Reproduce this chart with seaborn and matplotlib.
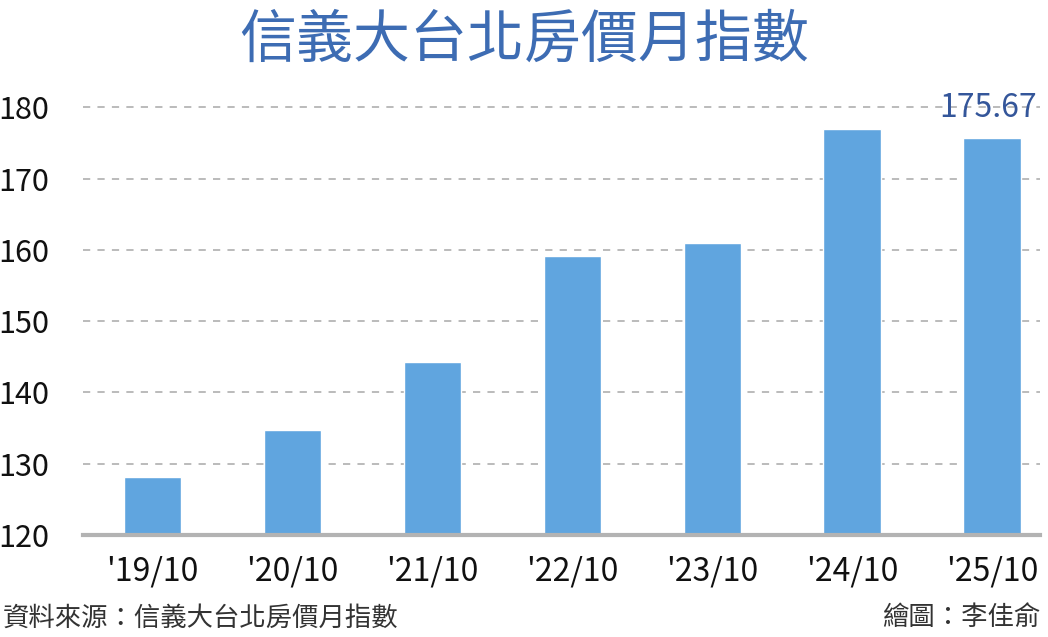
import seaborn as sns
from matplotlib import pyplot as plt
import pandas as pd

# 資料
periods = ["'19/10", "'20/10", "'21/10", "'22/10", "'23/10", "'24/10", "'25/10"]
index_values = [128.2, 134.7, 144.3, 159.2, 161.0, 177.0, 175.67]
y_ticks = [120, 130, 140, 150, 160, 170, 180]

sns.set_style('white')
plt.rcParams['font.family'] = ['Noto Sans CJK TC', 'DejaVu Sans']

df = pd.DataFrame({'period': periods, 'value': index_values})

fig = plt.figure(figsize=(10.48, 6.37), dpi=100)
ax = fig.add_axes([0.079, 0.160, 0.913, 0.694])

sns.barplot(x='period', y='value', data=df, color='#60a5df', width=0.41,
            saturation=1, ax=ax)

ax.set_ylim(120, 182)
ax.set_xlim(-0.5, 6.34)
ax.set_yticks(y_ticks)
ax.set_xlabel('')
ax.set_ylabel('')

# 虛線格線
ax.yaxis.grid(True, linestyle=(0, (4, 4)), color='#b5b5b5', linewidth=1.3)
ax.set_axisbelow(True)

for side in ['top', 'right', 'left']:
    ax.spines[side].set_visible(False)
ax.spines['bottom'].set_color('#b3b3b3')
ax.spines['bottom'].set_linewidth(3)

ax.tick_params(axis='y', length=0, pad=24, labelsize=22, labelcolor='#111111')
ax.tick_params(axis='x', length=9, width=2, color='#b3b3b3', pad=6,
               labelsize=23, labelcolor='#111111')

# 最新值標註
last = len(periods) - 1
ax.text(last - 0.03, 178.6, f'{index_values[last]:.2f}', ha='center', va='baseline',
        fontsize=23, color='#34569a', fontweight='medium')

fig.text(0.50, 0.937, '信義大台北房價月指數', ha='center', va='center',
         fontsize=41, fontweight='medium', color='#3d6cb3')
fig.text(0.003, 0.030, '資料來源：信義大台北房價月指數', ha='left', va='center',
         fontsize=19, color='#333333')
fig.text(0.993, 0.030, '繪圖：李佳俞', ha='right', va='center',
         fontsize=19, color='#333333')

fig.savefig('out.png', dpi=100)
